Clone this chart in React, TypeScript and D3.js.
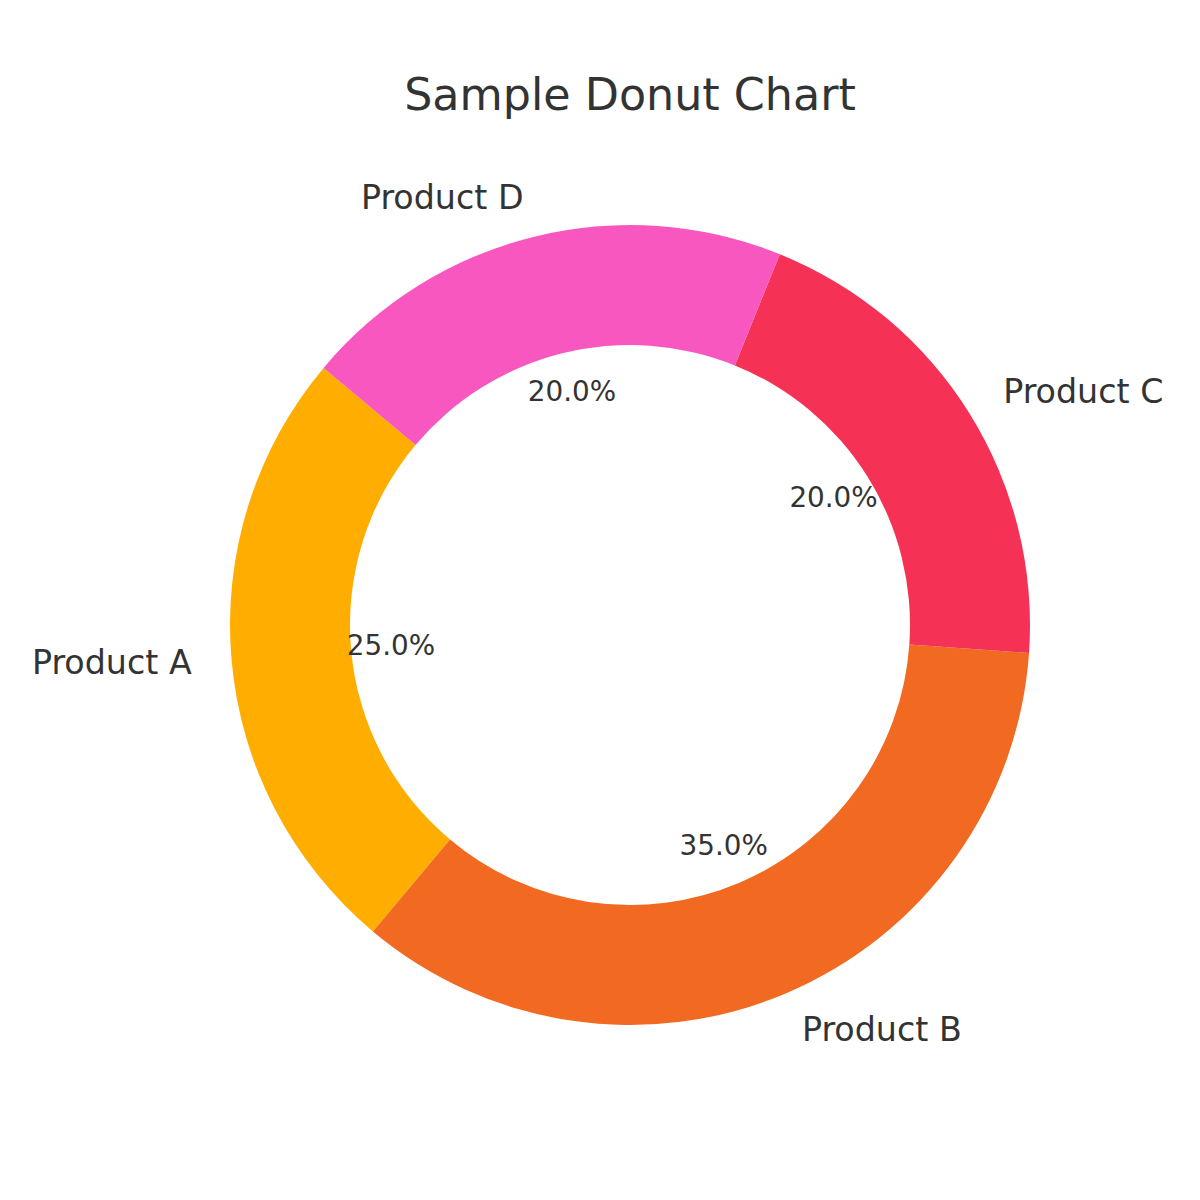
import { useEffect, useRef } from 'react'
import * as d3 from 'd3'

const PRODUCTS = ['Product A', 'Product B', 'Product C', 'Product D']
const SHARES = [25, 35, 20, 20]
const COLORS = ['#FFAE00', '#F26921', '#F53256', '#F757BF']

const TITLE = 'Sample Donut Chart'
const FONT = 'DejaVu Sans, sans-serif'
const INK = '#333333'

// matplotlib-style geometry: startangle 140deg, counter-clockwise
const CX = 630
const CY = 625
const R_OUTER = 400
const R_INNER = 280
const START_DEG = 140

export default function App() {
  const svgRef = useRef<SVGSVGElement>(null)

  useEffect(() => {
    const svgEl = svgRef.current
    if (!svgEl) return
    const svg = d3.select(svgEl)
    svg.selectAll('*').remove()

    svg.append('rect').attr('width', 1200).attr('height', 1200).attr('fill', '#fff')

    // d3 angles run clockwise from 12 o'clock, so convert
    const start = ((90 - START_DEG) * Math.PI) / 180
    const pie = d3.pie<number>()
      .sort(null)
      .value(d => d)
      .startAngle(start)
      .endAngle(start - 2 * Math.PI)

    const arcs = pie(SHARES)
    const total = d3.sum(SHARES)

    const arc = d3.arc<d3.PieArcDatum<number>>()
      .innerRadius(R_INNER)
      .outerRadius(R_OUTER)

    const g = svg.append('g').attr('transform', `translate(${CX},${CY})`)

    g.selectAll('path.slice')
      .data(arcs)
      .join('path')
      .attr('class', 'slice')
      .attr('d', arc)
      .attr('fill', (_, i) => COLORS[i])

    const polar = (a: number, r: number) => [r * Math.sin(a), -r * Math.cos(a)]

    // category labels at 1.1 * R
    const labelSize = 33.3
    g.selectAll('text.cat')
      .data(arcs)
      .join('text')
      .attr('class', 'cat')
      .each(function (d, i) {
        const mid = (d.startAngle + d.endAngle) / 2
        const [x, y] = polar(mid, R_OUTER * 1.1)
        d3.select(this)
          .attr('x', x)
          .attr('y', y + labelSize * 0.33)
          .attr('text-anchor', x > 0 ? 'start' : 'end')
          .text(PRODUCTS[i])
      })
      .attr('font-family', FONT)
      .attr('font-size', labelSize)
      .attr('fill', INK)

    // percentage labels at 0.6 * R
    const pctSize = 27.8
    g.selectAll('text.pct')
      .data(arcs)
      .join('text')
      .attr('class', 'pct')
      .each(function (d) {
        const mid = (d.startAngle + d.endAngle) / 2
        const [x, y] = polar(mid, R_OUTER * 0.6)
        d3.select(this)
          .attr('x', x)
          .attr('y', y + pctSize * 0.32)
          .text(`${((d.value / total) * 100).toFixed(1)}%`)
      })
      .attr('text-anchor', 'middle')
      .attr('font-family', FONT)
      .attr('font-size', pctSize)
      .attr('fill', INK)

    svg.append('text')
      .attr('x', CX)
      .attr('y', 110)
      .attr('text-anchor', 'middle')
      .attr('font-family', FONT)
      .attr('font-size', 44.4)
      .attr('fill', INK)
      .text(TITLE)
  }, [])

  return (
    <svg
      ref={svgRef}
      width={1200}
      height={1200}
      style={{ position: 'absolute', left: 0, top: 0, display: 'block' }}
    />
  )
}
